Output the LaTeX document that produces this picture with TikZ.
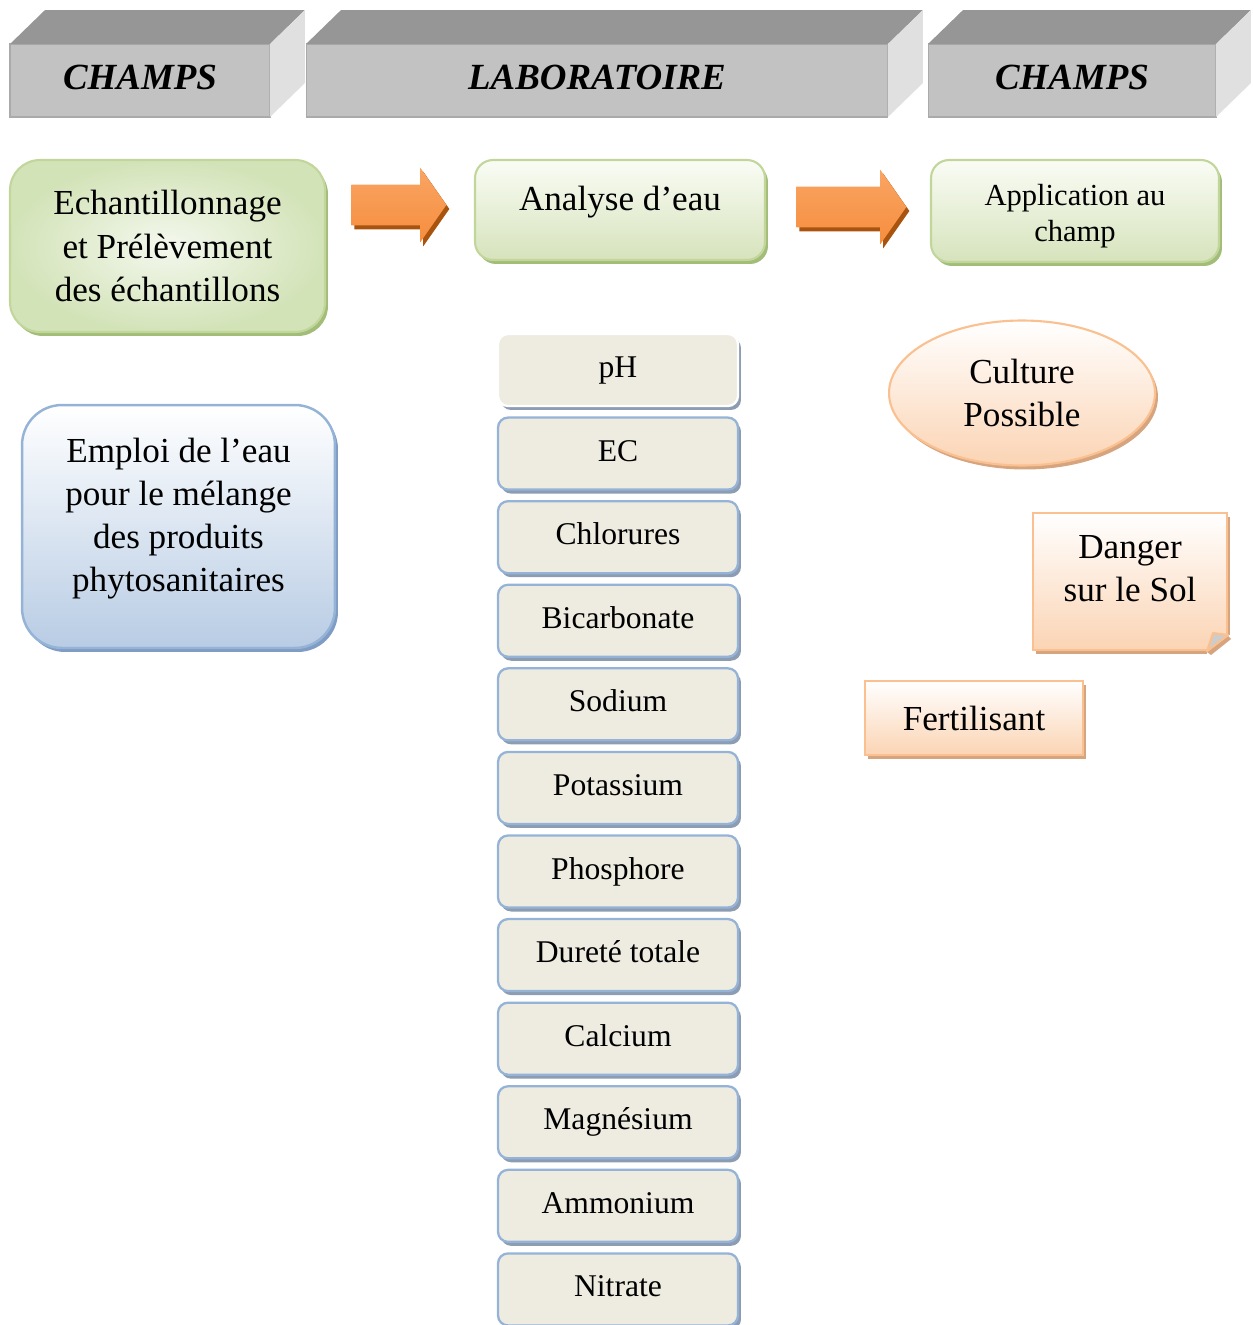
\documentclass[tikz,border=0pt]{standalone}
\usepackage{fontspec}
\setmainfont{Liberation Serif}
\usepackage{tikz}
\usetikzlibrary{positioning, shapes.geometric, shapes.arrows, calc}

\definecolor{hdtop}{HTML}{969696}
\definecolor{hdfront}{HTML}{C2C2C2}
\definecolor{hdside}{HTML}{E0E0E0}
\definecolor{hdline}{HTML}{AAAAAA}
\definecolor{grline}{HTML}{C2D69B}
\definecolor{grtop}{HTML}{FAFCF5}
\definecolor{grbot}{HTML}{D6E3BC}
\definecolor{grdark}{HTML}{D3E3B8}
\definecolor{grlight}{HTML}{F4F8EE}
\definecolor{grshadow}{HTML}{A2BD78}
\definecolor{blline}{HTML}{95B3D7}
\definecolor{blbot}{HTML}{B8CCE4}
\definecolor{blshadow}{HTML}{7F9CC4}
\definecolor{peline}{HTML}{FAC090}
\definecolor{pebot}{HTML}{FBD4B4}
\definecolor{peshadow}{HTML}{D6A47E}
\definecolor{itfill}{HTML}{EEECE1}
\definecolor{itshadow}{HTML}{8C9CB2}
\definecolor{artop}{HTML}{F9A563}
\definecolor{arbot}{HTML}{F68D3E}
\definecolor{arshadow}{HTML}{A8540F}

\tikzset{
boxshadow/.style={preaction={fill=#1, draw=none, transform canvas={xshift=0.06cm, yshift=-0.08cm}}}, % flat shadow below right
header/.style={rectangle, fill=hdfront, draw=hdline, line width=0.6pt, outer sep=0pt, minimum height=1.46cm, text depth=3.4pt, font=\fontsize{21}{25}\selectfont\bfseries\itshape}, % front face of the header blocks
greenbox/.style={rectangle, rounded corners=0.36cm, draw=grline, line width=1.2pt, top color=grtop, bottom color=grbot, boxshadow=grshadow, align=center, font=\fontsize{20}{24.5}\selectfont}, % field / lab steps
bluebox/.style={rectangle, rounded corners=0.8cm, draw=blline, line width=1.4pt, top color=white, bottom color=blbot, boxshadow=blshadow, align=center, font=\fontsize{20}{24.5}\selectfont},
peachbox/.style={draw=peline, line width=1.2pt, top color=white, bottom color=pebot, boxshadow=peshadow, align=center, inner sep=0pt, font=\fontsize{20}{24.5}\selectfont}, % results
itembox/.style={rectangle, rounded corners=0.2cm, draw=blline, line width=1.3pt, fill=itfill, boxshadow=itshadow, minimum width=4.8cm, minimum height=1.44cm, text height=13pt, text depth=4.4pt, font=\fontsize{18}{22}\selectfont}, % measured parameters
blockarrow/.style={single arrow, single arrow head extend=0.34cm, single arrow tip angle=110, inner xsep=0pt, inner ysep=0.4cm, anchor=tail, top color=artop, bottom color=arbot, draw=none, boxshadow=arshadow}, % big orange arrows
}

\begin{document}
\begin{tikzpicture}[x=0.02cm, y=-0.02cm, node distance=1.672cm]
    \useasboundingbox (0,0) rectangle (1252,1325);

    % Headers
    \node[header, minimum width=5.2cm] (champs1) at (140,80.5) {CHAMPS};
    \node[header, minimum width=11.64cm] (labo) at (597,80.5) {LABORATOIRE};
    \node[header, minimum width=5.76cm] (champs2) at (1072,80.5) {CHAMPS};
    \fill[hdtop] (champs1.north west) -- ++(35,-34) -- ([shift={(35,-34)}]champs1.north east) -- (champs1.north east) -- cycle;
    \fill[hdside] (champs1.north east) -- ++(35,-34) -- ([shift={(35,-34)}]champs1.south east) -- (champs1.south east) -- cycle;
    \fill[hdtop] (labo.north west) -- ++(35,-34) -- ([shift={(35,-34)}]labo.north east) -- (labo.north east) -- cycle;
    \fill[hdside] (labo.north east) -- ++(35,-34) -- ([shift={(35,-34)}]labo.south east) -- (labo.south east) -- cycle;
    \fill[hdtop] (champs2.north west) -- ++(35,-34) -- ([shift={(35,-34)}]champs2.north east) -- (champs2.north east) -- cycle;
    \fill[hdside] (champs2.north east) -- ++(35,-34) -- ([shift={(35,-34)}]champs2.south east) -- (champs2.south east) -- cycle;

    % Steps
    \node[greenbox, rounded corners=0.6cm, minimum width=6.3cm, minimum height=3.44cm,
          inner color=grlight, outer color=grdark] (echant) at (167.5,246)
          {Echantillonnage\\et Prélèvement\\des échantillons};
    \node[greenbox, minimum width=5.8cm, minimum height=2cm, text depth=13.6pt] (analyse) at (620,210) {Analyse d’eau};
    \node[greenbox, minimum width=5.76cm, minimum height=2.04cm, text height=39pt, text depth=3.8pt, font=\fontsize{17.4}{20.5}\selectfont] (applic) at (1075,211)
          {Application au\\champ};
    \node[blockarrow, minimum height=1.9cm] (arr1) at ([shift={(25,-5)}]echant.east |- analyse.west) {};
    \node[blockarrow, minimum height=2.2cm] (arr2) at ([shift={(30,-3)}]analyse.east) {};

    % Use of the water
    \node[bluebox, minimum width=6.26cm, minimum height=4.86cm, text depth=13pt] (emploi) at (178.5,526.5)
          {Emploi de l’eau\\pour le mélange\\des produits\\phytosanitaires};

    % Parameters
    \node[itembox, draw=white] (ph) at (618,370) {pH};
    \node[itembox, below of=ph] (ec) {EC};
    \node[itembox, below of=ec] (chlor) {Chlorures};
    \node[itembox, below of=chlor] (bicarb) {Bicarbonate};
    \node[itembox, below of=bicarb] (sodium) {Sodium};
    \node[itembox, below of=sodium] (potass) {Potassium};
    \node[itembox, below of=potass] (phosph) {Phosphore};
    \node[itembox, below of=phosph] (durete) {Dureté totale};
    \node[itembox, below of=durete] (calc) {Calcium};
    \node[itembox, below of=calc] (magn) {Magnésium};
    \node[itembox, below of=magn] (ammon) {Ammonium};
    \node[itembox, below of=ammon] (nitrate) {Nitrate};

    % Results
    \node[peachbox, ellipse, minimum width=5.32cm, minimum height=2.9cm] (culture) at (1022,393) {Culture\\Possible};
    \node[peachbox, rectangle, minimum width=3.88cm, minimum height=2.74cm, text depth=14.6pt] (danger) at (1130,581.5) {Danger\\sur le Sol};
    \fill[white] ([shift={(-21,0)}]danger.south east) -- ([shift={(-21,6)}]danger.south east)
        -- ([shift={(6,6)}]danger.south east) -- ([shift={(6,-16)}]danger.south east) -- ([shift={(0,-16)}]danger.south east) -- cycle;
    \fill[peshadow] ([shift={(-21,1)}]danger.south east) -- ([shift={(0,-15)}]danger.south east)
        -- ([shift={(3,-12)}]danger.south east) -- ([shift={(-17,4)}]danger.south east) -- cycle;
    \draw[peline, line width=1.2pt, fill=black!20, line join=round] ([shift={(-21,0)}]danger.south east)
        -- ([shift={(0,-16)}]danger.south east) -- ([shift={(-15,-18)}]danger.south east) -- cycle;
    \node[peachbox, rectangle, minimum width=4.36cm, minimum height=1.48cm] (fertil) at (974,718) {Fertilisant};
\end{tikzpicture}
\end{document}
